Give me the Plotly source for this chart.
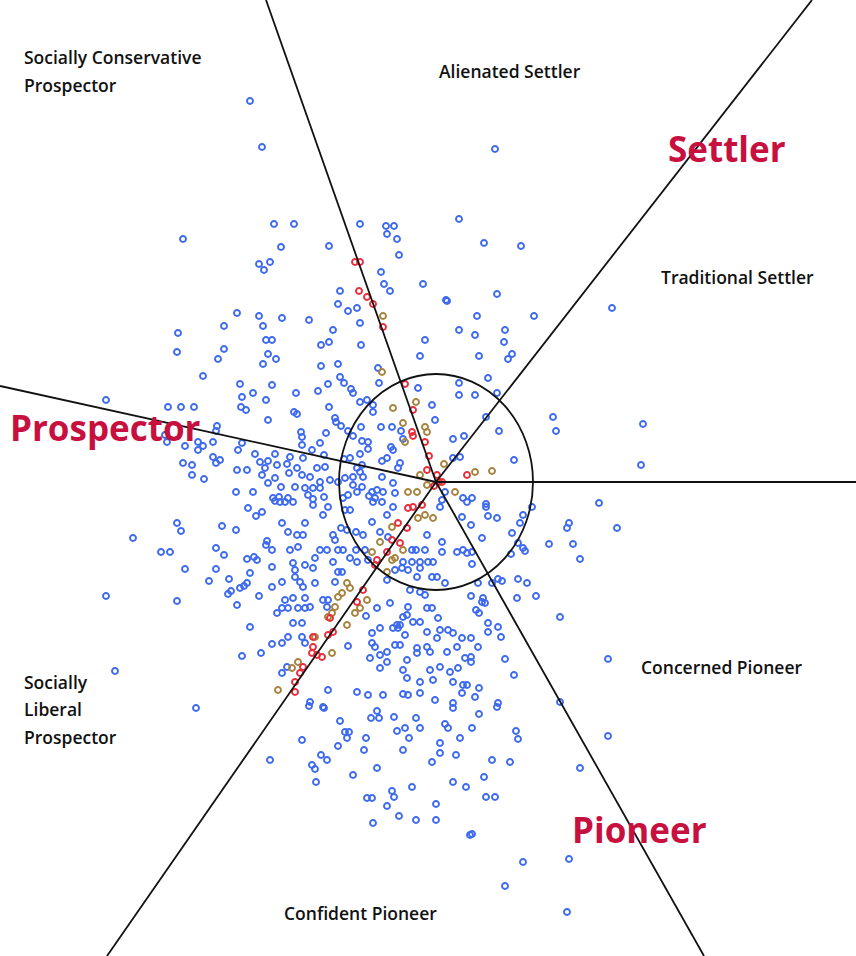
import plotly.graph_objects as go

# ---------------- data (pixel-space coordinates) ----------------
blue_pts = [
(250,101),(262,147),(274,224),(183,239),(281,247),(270,262),(259,264),(264,270),
(294,224),(329,246),(360,224),(386,226),(394,226),(387,234),(397,239),(459,219),(399,255),(381,272),(384,284),(390,291),(423,284),(340,291),(446,300),
(495,149),(484,243),(521,246),(497,294),
(237,313),(259,316),(282,318),(178,333),(224,326),(263,326),(266,340),(272,340),(177,352),(224,349),(218,359),(268,354),(276,359),(263,364),(203,376),(240,384),(272,385),(253,393),(242,397),(266,400),(106,400),(168,407),(181,407),(194,407),(241,407),(246,410),(268,420),(217,426),(216,431),(165,435),(167,442),(198,442),(203,446),(213,442),(242,443),(185,446),(198,450),(238,450),(255,454),(275,454),(213,457),(220,460),(183,463),(192,465),(216,463),(260,462),(268,461),(277,465),(237,470),(247,470),(265,468),(192,475),(204,479),(262,475),(275,478),(268,483),(281,487),(236,492),(253,492),(273,498),(279,497),
(338,304),(348,311),(357,308),(309,320),(360,323),(447,301),(333,330),(459,330),(329,342),(321,345),(361,345),(425,340),(420,356),(338,364),(321,366),(378,368),(340,377),(344,383),(328,384),(379,383),(418,388),(459,383),(459,395),(296,393),(318,391),(351,389),(353,393),(367,400),(360,402),(373,405),(432,405),(329,407),(373,412),(294,412),(297,414),(335,418),(435,420),(336,422),(341,426),(361,427),(381,427),(392,427),(401,431),(348,431),(301,432),(326,433),(302,437),(353,436),(403,439),(362,441),(368,442),(453,439),(464,436),(320,443),(302,445),(391,447),(368,449),(360,454),(312,450),(290,457),(324,455),(393,450),(387,458),(382,461),(350,458),(344,459),(303,458),(453,458),(460,457),(400,463),(398,468),(362,465),(357,468),(325,467),(317,468),(297,468),(287,464),(289,473),(302,475),(310,477),(360,472),(353,477),(363,477),(382,477),(345,478),(338,482),(330,480),(320,482),(393,483),(295,487),(305,488),(313,488),(320,488),(353,485),(362,487),(372,492),(377,490),(383,492),(395,493),(308,495),(313,499),(324,497),(343,498),(348,495),(357,492),(369,496),(375,498),(445,492),(463,498),(442,500),(288,498),
(477,316),(534,316),(612,308),(505,330),(475,335),(504,342),(479,356),(512,354),(508,359),(488,378),(475,395),(497,393),(486,417),(553,417),(556,431),(499,431),(643,424),(514,460),(641,465),(472,498),(486,504),(599,503),
(248,508),(256,516),(262,512),(275,501),(280,502),(177,523),(181,531),(222,526),(236,530),(133,538),(161,552),(170,552),(216,548),(224,555),(267,541),(266,545),(272,550),(247,559),(254,557),(257,560),(185,569),(216,569),(250,573),(272,567),(209,581),(229,579),(240,588),(244,586),(247,583),(231,591),(228,594),(272,587),(106,596),(177,601),(259,596),(237,605),(277,613),(250,627),(272,644),(242,656),(261,653),(115,671),(196,708),
(285,502),(293,502),(313,505),(328,507),(345,510),(350,510),(373,502),(382,502),(393,507),(440,507),(462,517),(467,502),(282,523),(288,532),(297,535),(303,535),(305,523),(323,515),(333,535),(335,540),(341,528),(347,530),(356,532),(363,535),(372,522),(380,532),(387,515),(388,537),(427,535),(442,542),(290,550),(298,547),(320,550),(327,550),(338,550),(343,550),(356,550),(365,550),(412,550),(416,550),(425,550),(442,552),(457,552),(463,550),(467,553),(293,563),(305,565),(315,558),(313,568),(333,562),(350,558),(357,562),(368,560),(403,562),(412,562),(420,562),(428,562),(433,562),(420,568),(432,577),(295,570),(282,582),(295,577),(300,582),(303,587),(315,583),(338,572),(342,572),(335,582),(387,580),(395,570),(402,568),(408,570),(417,577),(437,577),(445,583),(420,592),(425,595),(410,590),(285,600),(293,598),(305,598),(323,600),(328,600),(282,608),(288,608),(298,608),(305,608),(310,607),(327,607),(366,616),(377,608),(390,603),(408,607),(427,608),(432,608),(403,617),(407,615),(293,623),(302,623),(397,625),(400,625),(413,622),(420,622),(438,618),(440,630),(448,630),(453,633),(427,632),(288,637),(302,637),(372,633),(380,628),(393,628),(398,628),(405,635),(437,638),(462,638),(282,643),(305,643),(348,646),(372,643),(375,647),(395,645),(400,645),(417,648),(427,647),(447,652),(457,647),(370,658),(380,655),(387,652),(407,660),(417,653),(430,652),(387,662),(380,668),(403,670),(430,670),(440,667),(450,672),(465,658),(458,668),(287,667),(282,673),(420,682),(407,678),(433,680),(453,682),(463,685),(328,690),(357,692),(368,695),(383,695),(403,694),(408,695),(420,693),(435,700),(453,703),(310,702),(323,707),(462,693),
(486,507),(488,516),(497,518),(471,525),(523,515),(520,523),(532,507),(569,523),(567,528),(617,528),(512,533),(482,538),(549,544),(573,544),(518,543),(523,548),(525,551),(472,552),(511,554),(580,559),(472,564),(478,583),(492,583),(498,579),(502,581),(518,579),(527,583),(471,596),(483,598),(485,603),(482,602),(517,598),(536,596),(476,610),(479,613),(560,617),(488,623),(498,627),(488,632),(501,637),(471,638),(478,647),(471,657),(471,662),(505,659),(608,659),(514,675),(479,688),(467,685),(475,697),(498,703),(497,707),(560,702),
(270,760),
(309,706),(324,708),(377,711),(340,721),(371,718),(379,718),(394,717),(416,718),(453,708),(302,740),(345,732),(349,732),(347,738),(366,738),(397,731),(405,728),(420,728),(409,738),(445,724),(448,728),(460,738),(338,746),(364,750),(403,750),(440,743),(440,753),(456,755),(321,755),(327,760),(312,765),(315,769),(432,762),(377,768),(353,775),(316,782),(412,787),(453,782),(466,787),(392,791),(394,797),(367,798),(372,798),(387,806),(436,804),(399,816),(416,820),(436,820),(373,823),(470,835),
(479,714),(472,728),(516,731),(518,739),(608,736),(492,760),(510,762),(580,768),(484,777),(486,797),(495,797),(472,834),(523,862),(569,859),(505,886),(567,912),
]
red_pts = [
(355,262),(360,262),(359,291),(367,297),(373,304),(383,327),(405,384),(413,410),(412,432),(413,436),(425,442),(429,456),(427,470),(437,475),(439,482),(442,482),(467,475),(434,486),
(408,508),(413,507),(422,505),(398,523),(407,528),(392,540),(400,543),(387,552),(377,560),(375,565),(363,590),(357,602),(330,618),(333,632),(328,635),(313,637),(313,647),(312,653),(317,655),(322,657),(303,667),(300,673),(295,682),(295,692),
]
olive_pts = [
(383,316),(382,372),(393,408),(416,402),(403,423),(425,427),(427,432),(405,442),(420,475),(427,485),(444,464),(408,492),(417,492),(455,492),(475,472),(492,471),
(418,518),(425,515),(433,518),(392,527),(380,542),(403,550),(372,552),(392,560),(395,558),(387,572),(347,583),(350,588),(342,593),(338,597),(367,600),(360,608),(355,613),(335,607),(332,613),(328,617),(347,625),(315,637),(332,653),(298,662),(292,668),(278,690),
]

center = (436, 482)
ray_ends = [(266, 0), (812, 0), (856, 482), (704, 956), (107, 956), (0, 386)]
circle_box = (339, 374, 533, 590)

# (text, x, y, anchor)
labels_small = [
    ("Socially Conservative", 22, 57, "left"),
    ("Prospector", 22, 85, "left"),
    ("Alienated Settler", 510, 71, "center"),
    ("Traditional Settler", 737, 277, "center"),
    ("Concerned Pioneer", 721, 667, "center"),
    ("Socially", 22, 682, "left"),
    ("Liberal", 22, 709, "left"),
    ("Prospector", 22, 737, "left"),
    ("Confident Pioneer", 360, 913, "center"),
]
labels_big = [
    ("Settler", 727, 148, "center"),
    ("Prospector", 105, 427, "center"),
    ("Pioneer", 639, 829, "center"),
]

W, H = 856, 956
BLUE = "#3e6af0"
RED = "#ea2d3a"
OLIVE = "#a6843e"
CRIMSON = "#c8103f"

fig = go.Figure()

def add_pts(pts, color, name):
    fig.add_trace(go.Scatter(
        x=[p[0] for p in pts], y=[p[1] for p in pts], mode="markers", name=name,
        marker=dict(symbol="circle-open", size=6, color=color, line=dict(width=1.9, color=color)),
        hoverinfo="skip", showlegend=False))

add_pts(blue_pts, BLUE, "blue")
add_pts(olive_pts, OLIVE, "olive")
add_pts(red_pts, RED, "red")

shapes = []
for ex, ey in ray_ends:
    shapes.append(dict(type="line", x0=center[0], y0=center[1], x1=ex, y1=ey,
                       xref="x", yref="y", line=dict(color="#111111", width=1.8)))
shapes.append(dict(type="circle", x0=circle_box[0], y0=circle_box[1], x1=circle_box[2], y1=circle_box[3],
                   xref="x", yref="y", line=dict(color="#111111", width=1.8)))

annotations = []
for txt, x, y, al in labels_small:
    annotations.append(dict(text=txt, x=x, y=y, xref="x", yref="y", xanchor=al, yanchor="middle",
                            align=al, showarrow=False,
                            font=dict(family="Open Sans", size=17.5, color="#111111", weight=600)))
for txt, x, y, al in labels_big:
    annotations.append(dict(text=txt, x=x, y=y, xref="x", yref="y", xanchor=al, yanchor="middle",
                            showarrow=False,
                            font=dict(family="Open Sans", size=35, color=CRIMSON, weight=700)))

fig.update_layout(
    width=W, height=H, margin=dict(l=0, r=0, t=0, b=0),
    paper_bgcolor="white", plot_bgcolor="white",
    xaxis=dict(range=[0, W], visible=False, fixedrange=True),
    yaxis=dict(range=[H, 0], visible=False, fixedrange=True),
    shapes=shapes, annotations=annotations,
)
fig.write_html("out.html", config={"displayModeBar": False},
               post_script="document.body.style.margin='0';")
